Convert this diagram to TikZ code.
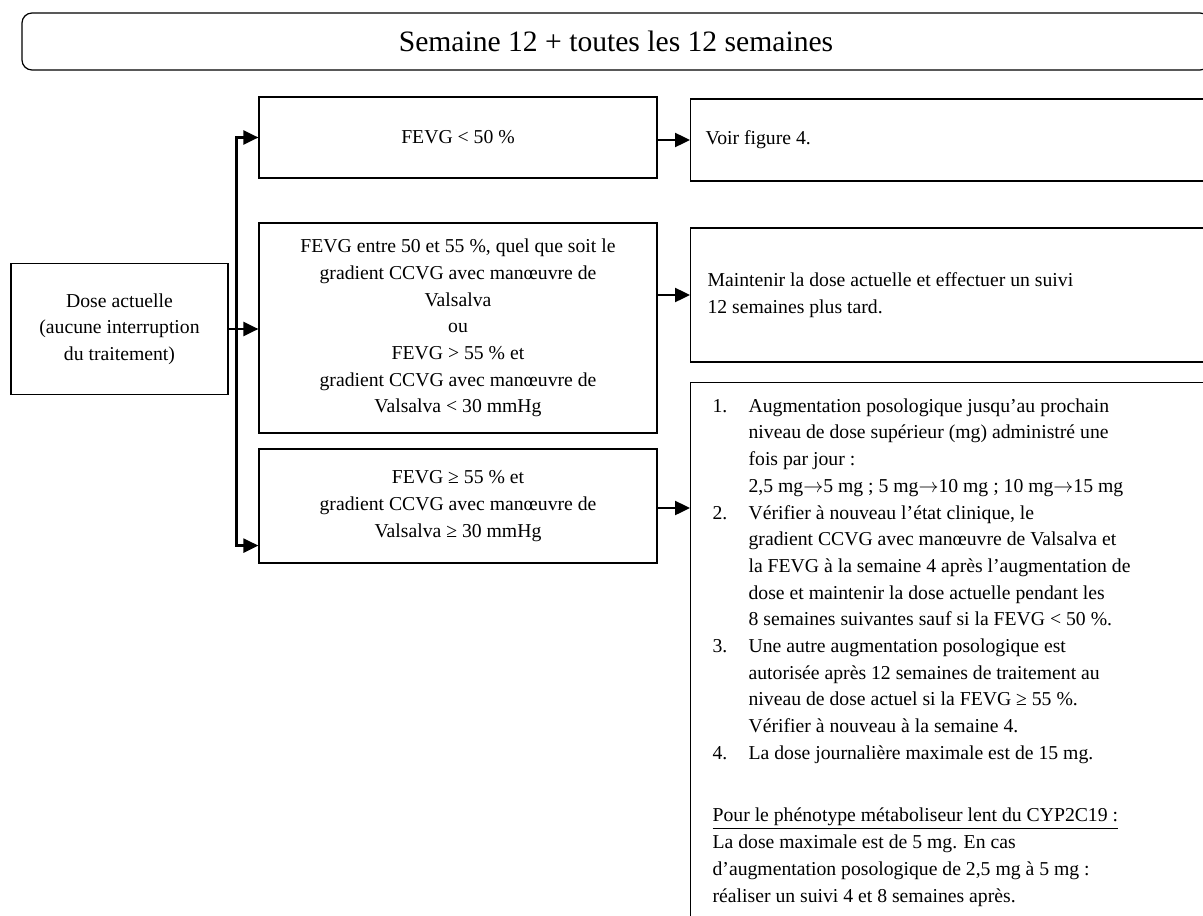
\documentclass[tikz,border=0pt]{standalone}
\usepackage{fontspec}
\setmainfont{Liberation Serif}
\usetikzlibrary{arrows.meta}
\begin{document}
\begin{tikzpicture}[x=0.5pt,y=-0.5pt,
  font=\fontsize{9.85}{13.35}\selectfont,
  cadre/.style={draw,line width=0.6pt,inner sep=0pt,align=center},
  fleche/.style={line width=1.2pt,-{Triangle[length=7.5pt,width=7pt]}}]
\clip (0,0) rectangle (1203,915);
\node[draw,line width=0.6pt,rounded corners=5pt,minimum width=594pt,minimum height=28.5pt,
  font=\fontsize{14.8}{18}\selectfont] (titre) at (616,41.5) {Semaine 12 + toutes les 12 semaines};
\node[cadre,minimum width=108.5pt,minimum height=65.5pt] (dose) at (119.5,329)
  {Dose actuelle\\(aucune interruption\\du traitement)};
\node[cadre,minimum width=199pt,minimum height=40.5pt] (crit1) at (458,137.5) {FEVG < 50 \%};
\node[cadre,minimum width=199pt,minimum height=105pt] (crit2) at (458,328)
  {FEVG entre 50 et 55 \%, quel que soit le\\gradient CCVG avec manœuvre de\\Valsalva\\ou\\FEVG > 55 \% et\\gradient CCVG avec manœuvre de\\Valsalva < 30 mmHg};
\node[cadre,minimum width=199pt,minimum height=57pt] (crit3) at (458,506)
  {FEVG ≥ 55 \% et\\gradient CCVG avec manœuvre de\\Valsalva ≥ 30 mmHg};
\node[cadre,align=flush left,anchor=west,minimum height=41pt,inner xsep=7.5pt,text width=260pt] (act1) at (690,140)
  {Voir figure 4.};
\node[cadre,align=flush left,anchor=west,minimum height=67pt,inner xsep=8.5pt,text width=258pt] (act2) at (690,295)
  {Maintenir la dose actuelle et effectuer un suivi\\12 semaines plus tard.};
\node[cadre,anchor=north west,inner xsep=11pt,inner ysep=5.5pt] (act3) at (690,382)
  {\parbox[t][285pt][t]{260pt}{%
  \begin{tabular}[t]{@{}p{18pt}@{}l@{}}
  1. & Augmentation posologique jusqu’au prochain\\
     & niveau de dose supérieur (mg) administré une\\
     & fois par jour :\\
     & 2,5 mg$\rightarrow$5 mg ; 5 mg$\rightarrow$10 mg ; 10 mg$\rightarrow$15 mg\\
  2. & Vérifier à nouveau l’état clinique, le\\
     & gradient CCVG avec manœuvre de Valsalva et\\
     & la FEVG à la semaine 4 après l’augmentation de\\
     & dose et maintenir la dose actuelle pendant les\\
     & 8 semaines suivantes sauf si la FEVG < 50 \%.\\
  3. & Une autre augmentation posologique est\\
     & autorisée après 12 semaines de traitement au\\
     & niveau de dose actuel si la FEVG ≥ 55 \%.\\
     & Vérifier à nouveau à la semaine 4.\\
  4. & La dose journalière maximale est de 15 mg.\\
  \\[4.5pt]
  \multicolumn{2}{@{}l@{}}{\underline{Pour le phénotype métaboliseur lent du CYP2C19 :}}\\
  \multicolumn{2}{@{}l@{}}{La dose maximale est de 5 mg. En cas}\\
  \multicolumn{2}{@{}l@{}}{d’augmentation posologique de 2,5 mg à 5 mg :}\\
  \multicolumn{2}{@{}l@{}}{réaliser un suivi 4 et 8 semaines après.}
  \end{tabular}}};
\path (dose.east) -- ++(8,0) coordinate (bus);
\draw[fleche] (dose.east) -- (dose.east -| crit2.west);
\draw[fleche] (bus) |- (crit1.west);
\draw[fleche] (bus) |- ([yshift=9pt]crit3.south west);
\draw[fleche] (act1.west -| crit1.east) -- (act1.west);
\draw[fleche] (act2.west -| crit2.east) -- (act2.west);
\draw[fleche] ([yshift=-1pt]crit3.east) -- ([yshift=-1pt]crit3.east -| act3.west);
\end{tikzpicture}
\end{document}
